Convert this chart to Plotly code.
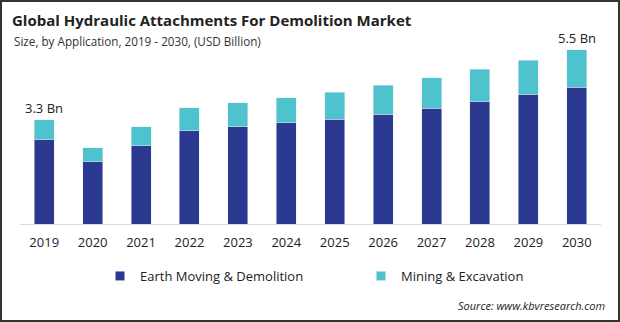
import plotly.graph_objects as go

years = ["2019", "2020", "2021", "2022", "2023", "2024", "2025", "2026", "2027", "2028", "2029", "2030"]
earth_moving = [2.66, 1.97, 2.47, 2.94, 3.07, 3.20, 3.31, 3.47, 3.66, 3.85, 4.10, 4.32]
mining = [0.63, 0.44, 0.60, 0.73, 0.76, 0.79, 0.85, 0.91, 0.95, 1.04, 1.07, 1.18]
series_names = ["Earth Moving & Demolition", "Mining & Excavation"]
label_years = ["2019", "2030"]

NAVY = "#2b3990"
TEAL = "#4fc3cd"
FONT = "Open Sans"

W, H = 620, 322
ML, MR, MT, MB = 20, 19, 44, 98
PW, PH = W - ML - MR, H - MT - MB

def px_x(X):
    return (X - ML) / PW

def px_y(Y):
    return (H - MB - Y) / PH

fig = go.Figure()
fig.add_trace(go.Bar(x=years, y=earth_moving, name=series_names[0], marker_color=NAVY,
                     showlegend=False, hoverinfo="x+y"))
fig.add_trace(go.Bar(x=years, y=mining, name=series_names[1], marker_color=TEAL,
                     showlegend=False, hoverinfo="x+y"))
for nm, col, lg in zip(series_names, [NAVY, TEAL], ["legend", "legend2"]):
    fig.add_trace(go.Scatter(x=[years[0]], y=[None], mode="markers", name=nm, legend=lg,
                             marker=dict(symbol="square", size=9, color=col), hoverinfo="skip"))

totals = [a + b for a, b in zip(earth_moving, mining)]
for yr in label_years:
    i = years.index(yr)
    fig.add_annotation(x=i, y=totals[i], text=f"{totals[i]:.1f} Bn", showarrow=False,
                       yanchor="bottom", yshift=1, font=dict(family=FONT, size=13, color="#222"))

fig.add_annotation(xref="paper", yref="paper", x=px_x(12), y=px_y(41), xanchor="left", yanchor="middle",
                   text="Size, by Application, 2019 - 2030, (USD Billion)", showarrow=False,
                   font=dict(family=FONT, size=11.7, color="#333"))
fig.add_annotation(xref="paper", yref="paper", x=px_x(607), y=px_y(305), xanchor="right", yanchor="middle",
                   text="<i>Source: www.kbvresearch.com</i>", showarrow=False,
                   font=dict(family=FONT, size=11, color="#222"))

# frame
fig.add_shape(type="rect", xref="paper", yref="paper", x0=px_x(1), x1=px_x(619), y0=px_y(321), y1=px_y(1),
              line=dict(color="#333", width=2), layer="above")

legend_common = dict(orientation="h", yanchor="top", xanchor="left", y=px_y(261),
                     font=dict(family=FONT, size=13, color="#222"), itemsizing="trace",
                     bgcolor="rgba(0,0,0,0)")

fig.update_layout(
    width=W, height=H,
    margin=dict(l=ML, r=MR, t=MT, b=MB),
    paper_bgcolor="white", plot_bgcolor="white",
    barmode="stack", bargap=0.587,
    title=dict(text="<b>Global Hydraulic Attachments For Demolition Market</b>",
               xref="container", yref="container", x=12 / W, y=1 - 21 / H,
               xanchor="left", yanchor="middle",
               font=dict(family=FONT, size=15, color="#222")),
    xaxis=dict(type="category", showline=True, linecolor="#d9d9d9", linewidth=1,
               range=[-0.5, len(years) - 0.5],
               showgrid=False, ticks="", ticklabelstandoff=6,
               tickfont=dict(family=FONT, size=13, color="#222")),
    yaxis=dict(visible=False, range=[0, 5.68], showgrid=False),
    legend=dict(x=px_x(100), **legend_common),
    legend2=dict(x=px_x(361), **legend_common),
    showlegend=True,
)

fig.write_html("out.html")
